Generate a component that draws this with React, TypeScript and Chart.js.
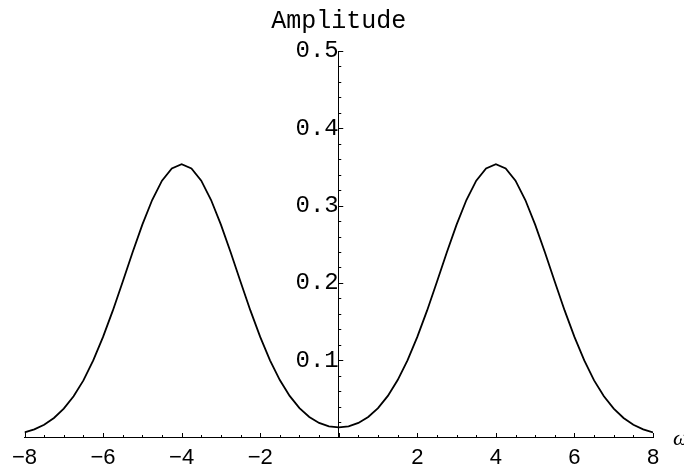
import React, { useEffect, useRef } from "react";
import { Chart, registerables } from "chart.js";

Chart.register(...registerables);

// Frequency samples (ω) and the spectral amplitude at each one
const OMEGA: number[] = [
  -8, -7.75, -7.5, -7.25, -7, -6.75, -6.5, -6.25, -6, -5.75, -5.5, -5.25, -5,
  -4.75, -4.5, -4.25, -4, -3.75, -3.5, -3.25, -3, -2.75, -2.5, -2.25, -2,
  -1.75, -1.5, -1.25, -1, -0.75, -0.5, -0.25, 0, 0.25, 0.5, 0.75, 1, 1.25,
  1.5, 1.75, 2, 2.25, 2.5, 2.75, 3, 3.25, 3.5, 3.75, 4, 4.25, 4.5, 4.75, 5,
  5.25, 5.5, 5.75, 6, 6.25, 6.5, 6.75, 7, 7.25, 7.5, 7.75, 8,
];

const AMPLITUDE: number[] = [
  0.0065, 0.0105, 0.0165, 0.0252, 0.0373, 0.0534, 0.0739, 0.0997, 0.1301,
  0.1644, 0.2015, 0.2393, 0.2754, 0.3072, 0.3322, 0.3481, 0.3536, 0.3481,
  0.3322, 0.3072, 0.2754, 0.2393, 0.2015, 0.1644, 0.1301, 0.0998, 0.0743,
  0.0538, 0.038, 0.0265, 0.0188, 0.0144, 0.013, 0.0144, 0.0188, 0.0265,
  0.038, 0.0538, 0.0743, 0.0998, 0.1301, 0.1644, 0.2015, 0.2393, 0.2754,
  0.3072, 0.3322, 0.3481, 0.3536, 0.3481, 0.3322, 0.3072, 0.2754, 0.2393,
  0.2015, 0.1644, 0.1301, 0.0997, 0.0739, 0.0534, 0.0373, 0.0252, 0.0165,
  0.0105, 0.0065,
];

// Axis ranges and tick spacing
const X_RANGE = [-8, 8];
const Y_RANGE = [0, 0.5];
const X_MAJOR = 2;
const X_MINOR = 0.5;
const Y_MAJOR = 0.1;
const Y_MINOR = 0.02;

const Y_TITLE = "Amplitude";
const X_TITLE = "ω";

const MONO = "'Liberation Mono', 'Courier New', monospace";
const SANS = "'Liberation Sans', Arial, sans-serif";

// Inward tick marks (major + minor), the axis titles
const axisDecor = {
  id: "axisDecor",
  afterDraw(chart: Chart) {
    const ctx = chart.ctx;
    const xs = chart.scales.x;
    const ys = chart.scales.y;
    const x0 = xs.getPixelForValue(0);
    const y0 = ys.getPixelForValue(0);
    ctx.save();
    ctx.strokeStyle = "#000";
    ctx.lineWidth = 1;
    ctx.beginPath();
    const nx = Math.round((X_RANGE[1] - X_RANGE[0]) / X_MINOR);
    for (let i = 0; i <= nx; i++) {
      const v = X_RANGE[0] + i * X_MINOR;
      const major = Math.abs(v / X_MAJOR - Math.round(v / X_MAJOR)) < 1e-6;
      const px = Math.round(xs.getPixelForValue(v)) + 0.5;
      ctx.moveTo(px, y0);
      ctx.lineTo(px, y0 - (major ? 4.5 : 2.5));
    }
    const ny = Math.round((Y_RANGE[1] - Y_RANGE[0]) / Y_MINOR);
    for (let i = 1; i <= ny; i++) {
      const v = Y_RANGE[0] + i * Y_MINOR;
      const major = Math.abs(v / Y_MAJOR - Math.round(v / Y_MAJOR)) < 1e-6;
      const py = Math.round(ys.getPixelForValue(v)) + 0.5;
      ctx.moveTo(x0, py);
      ctx.lineTo(x0 + (major ? 4.5 : 2.5), py);
    }
    ctx.stroke();

    ctx.fillStyle = "#000";
    ctx.font = `25px ${MONO}`;
    ctx.textAlign = "center";
    ctx.textBaseline = "middle";
    ctx.fillText(Y_TITLE, x0, 21);

    ctx.font = `italic 22px 'Liberation Serif', 'Times New Roman', serif`;
    ctx.textAlign = "left";
    ctx.fillText(X_TITLE, xs.right + 20, y0 + 2);
    ctx.restore();
  },
};

export default function App() {
  const canvasRef = useRef<HTMLCanvasElement | null>(null);

  useEffect(() => {
    const canvas = canvasRef.current;
    if (!canvas) return;
    const chart = new Chart(canvas, {
      type: "line",
      data: {
        datasets: [
          {
            data: OMEGA.map((w, i) => ({ x: w, y: AMPLITUDE[i] })),
            borderColor: "#000",
            borderWidth: 1.8,
            pointRadius: 0,
            tension: 0,
            fill: false,
          },
        ],
      },
      options: {
        animation: false,
        responsive: true,
        maintainAspectRatio: false,
        layout: { padding: { left: 24.5, right: 31, top: 51, bottom: 30.5 } },
        plugins: {
          legend: { display: false },
          tooltip: { enabled: false },
        },
        scales: {
          x: {
            type: "linear",
            position: { y: 0 },
            min: X_RANGE[0],
            max: X_RANGE[1],
            grid: { drawOnChartArea: false, drawTicks: false },
            border: { color: "#000", width: 1 },
            ticks: {
              stepSize: X_MAJOR,
              padding: 7,
              color: "#000",
              font: { family: SANS, size: 22 },
              maxRotation: 0,
              autoSkip: false,
              callback: (v: any) => {
                const n = Number(v);
                if (n === 0) return null;
                return n < 0 ? "\u2212" + Math.abs(n) : String(n);
              },
            },
          },
          y: {
            type: "linear",
            position: { x: 0 },
            min: Y_RANGE[0],
            max: Y_RANGE[1],
            grid: { drawOnChartArea: false, drawTicks: false },
            border: { color: "#000", width: 1 },
            ticks: {
              stepSize: Y_MAJOR,
              padding: 10,
              color: "#000",
              font: { family: MONO, size: 24 },
              autoSkip: false,
              callback: (v: any) => {
                const n = Number(v);
                if (Math.abs(n) < 1e-9) return null;
                return n.toFixed(1);
              },
            },
          },
        },
      },
      plugins: [axisDecor],
    });
    return () => chart.destroy();
  }, []);

  return (
    <div
      style={{
        position: "absolute",
        left: 0,
        top: 0,
        width: 684,
        height: 468,
        background: "#fff",
      }}
    >
      <canvas ref={canvasRef} />
    </div>
  );
}
